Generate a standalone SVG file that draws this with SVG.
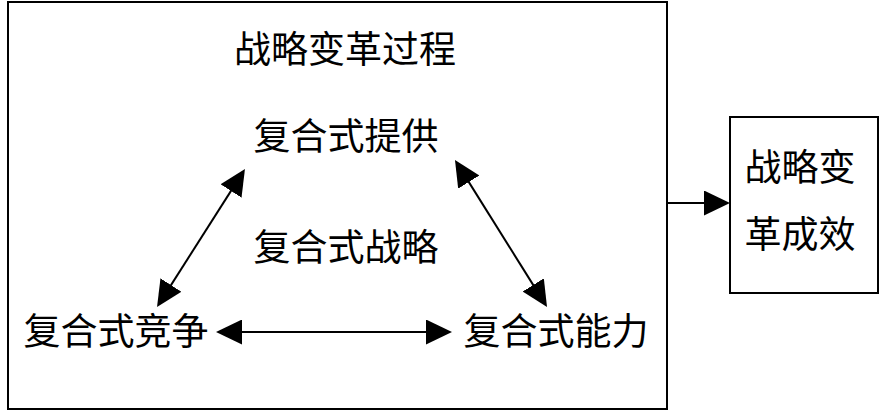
<svg xmlns="http://www.w3.org/2000/svg" width="886" height="412" viewBox="0 0 886 412">
<defs>
<marker id="ah" markerUnits="userSpaceOnUse" markerWidth="26" markerHeight="25" refX="22" refY="12.5" orient="auto-start-reverse">
<path d="M0,0 L26,12.5 L0,25 z" fill="#000"/>
</marker>
<style>
.box{fill:#fff;stroke:#000;stroke-width:2}
.t{font-family:"Noto Sans CJK SC","Noto Sans CJK JP",sans-serif;font-size:37px;fill:#000;text-anchor:middle}
.c{stroke:#000;stroke-width:2;fill:none}
</style>
</defs>
<rect width="886" height="412" fill="#fff"/>
<g id="process">
<rect class="box" x="8" y="2" width="659" height="407"/>
<text class="t" x="345" y="63">战略变革过程</text>
</g>
<g id="provide"><text class="t" x="346" y="150">复合式提供</text></g>
<g id="strategy"><text class="t" x="346" y="261">复合式战略</text></g>
<g id="compete"><text class="t" x="116" y="345">复合式竞争</text></g>
<g id="capability"><text class="t" x="556" y="345">复合式能力</text></g>
<g id="result">
<rect class="box" x="730" y="117" width="148" height="176"/>
<text class="t" x="800" y="181">战略变</text>
<text class="t" x="800" y="248">革成效</text>
</g>
<g id="connectors">
<line class="c" x1="159.2" y1="303.6" x2="242.8" y2="172.4" marker-start="url(#ah)" marker-end="url(#ah)"/>
<line class="c" x1="457.1" y1="163.4" x2="544.9" y2="303.6" marker-start="url(#ah)" marker-end="url(#ah)"/>
<line class="c" x1="220" y1="332" x2="448" y2="332" marker-start="url(#ah)" marker-end="url(#ah)"/>
<line class="c" x1="667" y1="203" x2="726" y2="203" marker-end="url(#ah)"/>
</g>
</svg>
